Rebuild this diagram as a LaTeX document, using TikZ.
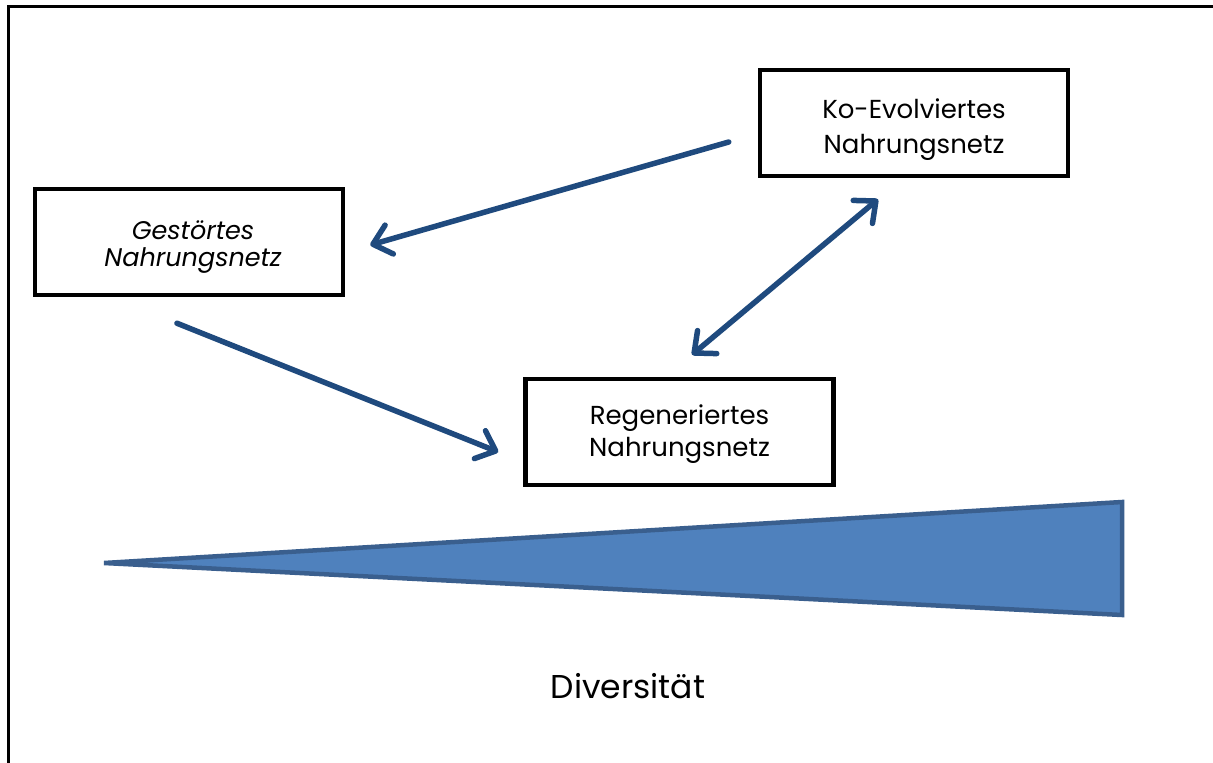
\documentclass[tikz,border=0pt]{standalone}
\usepackage{fontspec}
\setmainfont{Poppins}
\usetikzlibrary{arrows.meta}
\definecolor{arrowblue}{HTML}{1F4A7E}
\definecolor{trifill}{HTML}{4F81BD}
\definecolor{triline}{HTML}{3A5F8E}
\newcommand{\twolines}[3]{\raisebox{#1}[\height][\depth]{\begin{tabular}{@{}c@{}}#2\\#3\end{tabular}}}
\tikzset{
  netbox/.style={draw=black, line width=4.5pt, fill=white, minimum width=308pt, minimum height=106pt, align=center, inner sep=0pt, font=\fontsize{26}{34}\selectfont},
  arr/.style={draw=arrowblue, line width=5.5pt, line cap=round, -{Straight Barb[round, length=17pt, width=30pt, line width=5.5pt]}},
  darr/.style={draw=arrowblue, line width=5.5pt, line cap=round, {Straight Barb[round, length=17pt, width=30pt, line width=5.5pt]}-{Straight Barb[round, length=17pt, width=30pt, line width=5.5pt]}}
}
\begin{document}
\begin{tikzpicture}[x=1pt, y=-1pt]
\useasboundingbox (0,0) rectangle (1213,763);
\fill[white] (0,0) rectangle (1213,763);
% frame
\draw[line width=3pt] (8.3,763) -- (8.3,6.7) -- (1213,6.7);
% boxes
\node[netbox, font=\itshape\fontsize{25.5}{27}\selectfont] (gest) at (189,242) {\hspace{8pt}\twolines{-6pt}{Gestörtes}{Nahrungsnetz}};
\node[netbox, font=\fontsize{26}{35}\selectfont] (ko) at (914,123) {\twolines{-6pt}{Ko-Evolviertes}{Nahrungsnetz}};
\node[netbox, font=\fontsize{26}{32}\selectfont] (reg) at (679.5,432) {\twolines{-2pt}{Regeneriertes}{Nahrungsnetz}};
% arrows
\draw[arr] ([xshift=-29pt, yshift=-19pt]ko.west) -- ([xshift=25pt, yshift=-3pt]gest.east);
\draw[arr] ([xshift=-12pt, yshift=-26pt]gest.south) -- ([xshift=-25pt, yshift=-20pt]reg.west);
\draw[darr] ([xshift=12.5pt, yshift=22pt]reg.north) -- ([xshift=-36pt, yshift=-21pt]ko.south);
% diversity wedge
\draw[fill=trifill, draw=triline, line width=4.5pt, line join=miter] (104,563) -- (1122,502) -- (1122,615) -- cycle;
\node[font=\fontsize{33}{40}\selectfont, anchor=base] (div) at (628,698) {Diversität};
\end{tikzpicture}
\end{document}
